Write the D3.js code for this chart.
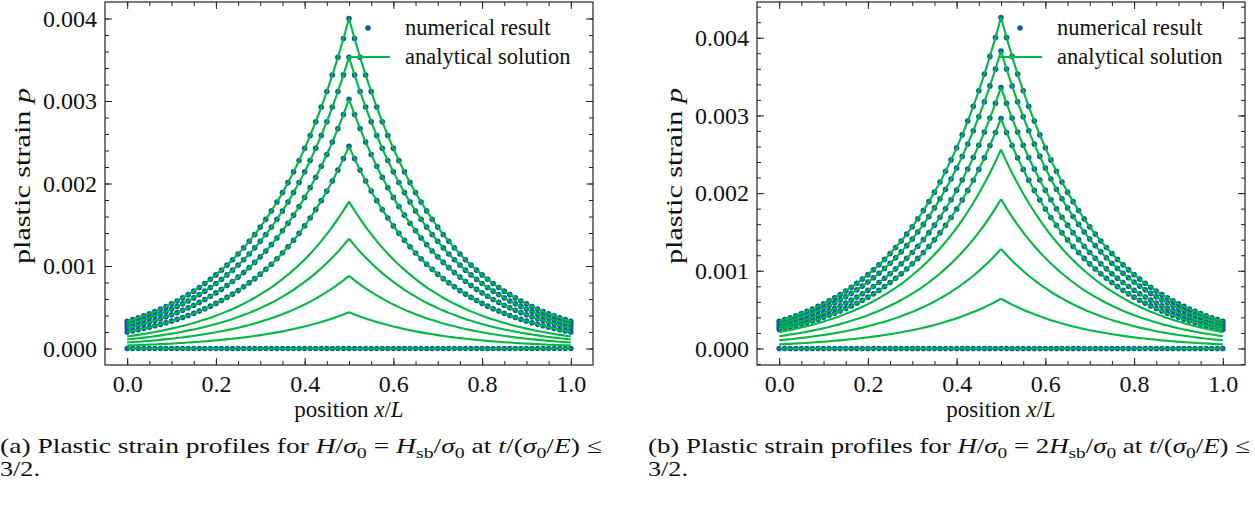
<!DOCTYPE html>
<html>
<head>
<meta charset="UTF-8">
<title>Plastic strain profiles</title>
<script src="https://d3js.org/d3.v7.min.js"></script>
<style>
    body { margin: 0; background: #fff; }
    svg { display: block; font-family: "Liberation Serif", "Times New Roman", serif; }
    .tick line { stroke: #222; stroke-width: 1; }
</style>
</head>
<body>
<svg id="fig" width="1255" height="505"></svg>
<script>
// grid of the left half x/L in [0, 0.5]; the profiles are symmetric about 0.5
const halfX = [0, 0.0125, 0.025, 0.0375, 0.05, 0.0625, 0.075, 0.0875, 0.1, 0.1125,
    0.125, 0.1375, 0.15, 0.1625, 0.175, 0.1875, 0.2, 0.2125, 0.225, 0.2375,
    0.25, 0.2625, 0.275, 0.2875, 0.3, 0.3125, 0.325, 0.3375, 0.35, 0.3625,
    0.375, 0.3875, 0.4, 0.4125, 0.425, 0.4375, 0.45, 0.4625, 0.475, 0.4875, 0.5];
// normalised profile shape p/p_peak read along the half grid
const profile = [0.0821, 0.0874, 0.0930, 0.0990, 0.1054, 0.1122, 0.1194, 0.1271, 0.1353, 0.1441,
    0.1534, 0.1632, 0.1738, 0.1850, 0.1969, 0.2096, 0.2231, 0.2375, 0.2528, 0.2691,
    0.2865, 0.3050, 0.3247, 0.3456, 0.3679, 0.3916, 0.4169, 0.4437, 0.4724, 0.5028,
    0.5353, 0.5698, 0.6065, 0.6456, 0.6873, 0.7316, 0.7788, 0.8290, 0.8825, 0.9394, 1.0000];

// peak values (x/L = 0.5) of each profile
const analyticA = [0.00400, 0.00353, 0.00302, 0.00245, 0.00178, 0.00133, 0.00088, 0.00044, 0];
const numericA  = [0.00400, 0.00353, 0.00302, 0.00245, 0];
const analyticB = [0.00426, 0.00383, 0.00336, 0.00296, 0.00256, 0.00192, 0.00128, 0.00064, 0];
const numericB  = [0.00426, 0.00383, 0.00336, 0.00296, 0];

const xMajor = [0, 0.2, 0.4, 0.6, 0.8, 1.0];
const xMinor = [0, 0.05, 0.1, 0.15, 0.2, 0.25, 0.3, 0.35, 0.4, 0.45, 0.5,
    0.55, 0.6, 0.65, 0.7, 0.75, 0.8, 0.85, 0.9, 0.95, 1.0];
const yMajor = [0, 0.001, 0.002, 0.003, 0.004];
const yMinor = [-0.0002, 0, 0.0002, 0.0004, 0.0006, 0.0008, 0.001, 0.0012, 0.0014, 0.0016,
    0.0018, 0.002, 0.0022, 0.0024, 0.0026, 0.0028, 0.003, 0.0032, 0.0034, 0.0036,
    0.0038, 0.004, 0.0042, 0.0044];

const captionA = [["(a) Plastic strain profiles for ", ""], ["H", "i"], ["/", ""], ["σ", "i"], ["0", "sub"],
    [" = ", ""], ["H", "i"], ["sb", "sub"], ["/", ""], ["σ", "i"], ["0", "sub"], [" at ", ""],
    ["t", "i"], ["/(", ""], ["σ", "i"], ["0", "sub"], ["/", ""], ["E", "i"], [") ≤", ""]];
const captionB = [["(b) Plastic strain profiles for ", ""], ["H", "i"], ["/", ""], ["σ", "i"], ["0", "sub"],
    [" = 2", ""], ["H", "i"], ["sb", "sub"], ["/", ""], ["σ", "i"], ["0", "sub"], [" at ", ""],
    ["t", "i"], ["/(", ""], ["σ", "i"], ["0", "sub"], ["/", ""], ["E", "i"], [") ≤", ""]];

const blue = "#0C5DA5", green = "#00B945";
const svg = d3.select("#fig");

// text made of roman / italic / subscript pieces
function richText(sel, parts, size) {
    let shift = 0;
    parts.forEach(([t, s]) => {
        const target = s === "sub" ? size * 0.22 : 0;
        const ts = sel.append("tspan").attr("font-size", s === "sub" ? size * 0.72 : size).text(t);
        if (target !== shift) ts.attr("dy", target - shift);
        shift = target;
        if (s === "i") ts.attr("font-style", "italic");
    });
}

function profilePoints(peak) {
    const left = halfX.map((x, i) => ({ x: x, p: peak * profile[i] }));
    const right = halfX.map((x, i) => ({ x: 1 - x, p: peak * profile[i] })).reverse();
    return [left, right];
}

function panel(x0, yDomain, analytic, numeric, caption, capX) {
    const top = 2, bottom = 365;
    const x = d3.scaleLinear().domain([-0.05, 1.05]).range([x0, x0 + 488]);
    const y = d3.scaleLinear().domain(yDomain).range([bottom, top]);
    const g = svg.append("g");

    // numerical dots first, analytical lines on top
    numeric.forEach(pk => {
        const pts = profilePoints(pk);
        const all = pts[0].concat(pts[1].slice(1));
        g.append("g").selectAll("circle").data(all).join("circle")
            .attr("cx", d => x(d.x)).attr("cy", d => y(d.p)).attr("r", 2.8)
            .attr("fill", blue);
    });
    const line = d3.line().x(d => x(d.x)).y(d => y(d.p)).curve(d3.curveMonotoneX);
    analytic.forEach(pk => {
        profilePoints(pk).forEach(half => {
            g.append("path").attr("d", line(half)).attr("fill", "none")
                .attr("stroke", green).attr("stroke-width", 2.1);
        });
    });

    // axes with inward ticks on all sides
    const ext = y.domain();
    const yMin = yMinor.filter(v => v > ext[0] && v < ext[1]);
    const addAxis = (axis, tr) => {
        const a = g.append("g").attr("transform", tr).call(axis);
        a.select(".domain").remove();
        a.selectAll("text").attr("font-size", 24).attr("fill", "#111")
            .attr("font-family", "Liberation Serif");
        return a;
    };
    addAxis(d3.axisBottom(x).tickValues(xMajor).tickSize(-7).tickPadding(10).tickFormat(d3.format(".1f")), `translate(0,${bottom})`);
    addAxis(d3.axisBottom(x).tickValues(xMinor).tickSize(-4).tickFormat(""), `translate(0,${bottom})`);
    addAxis(d3.axisTop(x).tickValues(xMajor).tickSize(-7).tickFormat(""), `translate(0,${top})`);
    addAxis(d3.axisTop(x).tickValues(xMinor).tickSize(-4).tickFormat(""), `translate(0,${top})`);
    addAxis(d3.axisLeft(y).tickValues(yMajor).tickSize(-7).tickPadding(8).tickFormat(d3.format(".3f")), `translate(${x0},0)`);
    addAxis(d3.axisLeft(y).tickValues(yMin).tickSize(-4).tickFormat(""), `translate(${x0},0)`);
    addAxis(d3.axisRight(y).tickValues(yMajor).tickSize(-7).tickFormat(""), `translate(${x0 + 488},0)`);
    addAxis(d3.axisRight(y).tickValues(yMin).tickSize(-4).tickFormat(""), `translate(${x0 + 488},0)`);

    g.append("rect").attr("x", x0).attr("y", top).attr("width", 488).attr("height", bottom - top)
        .attr("fill", "none").attr("stroke", "#222").attr("stroke-width", 1.2);

    // legend
    g.append("circle").attr("cx", x0 + 263).attr("cy", 28).attr("r", 2.8).attr("fill", blue);
    g.append("line").attr("x1", x0 + 243).attr("x2", x0 + 285).attr("y1", 57).attr("y2", 57)
        .attr("stroke", green).attr("stroke-width", 2.1);
    g.append("text").attr("x", x0 + 300).attr("y", 35).attr("font-size", 22.5).attr("fill", "#111")
        .text("numerical result");
    g.append("text").attr("x", x0 + 300).attr("y", 64).attr("font-size", 22.5).attr("fill", "#111")
        .text("analytical solution");

    // axis labels
    const xl = g.append("text").attr("x", x0 + 244).attr("y", 417).attr("text-anchor", "middle")
        .attr("font-size", 23).attr("fill", "#111");
    richText(xl, [["position ", ""], ["x", "i"], ["/", ""], ["L", "i"]], 23);
    const yl = g.append("text").attr("transform", `translate(${x0 - 75},176) rotate(-90)`)
        .attr("text-anchor", "middle").attr("font-size", 24).attr("fill", "#111")
        .attr("textLength", 176).attr("lengthAdjust", "spacingAndGlyphs");
    richText(yl, [["plastic strain ", ""], ["p", "i"]], 24);

    // caption
    const c1 = g.append("text").attr("x", capX).attr("y", 453).attr("font-size", 21).attr("fill", "#111")
        .attr("textLength", 602).attr("lengthAdjust", "spacingAndGlyphs");
    richText(c1, caption, 21);
    g.append("text").attr("x", capX).attr("y", 476).attr("font-size", 21).attr("fill", "#111")
        .attr("textLength", 40).attr("lengthAdjust", "spacingAndGlyphs").text("3/2.");
}

panel(105, [-0.0002, 0.0042], analyticA, numericA, captionA, 0);
panel(757, [-0.000213, 0.00446], analyticB, numericB, captionB, 648);
</script>
</body>
</html>
